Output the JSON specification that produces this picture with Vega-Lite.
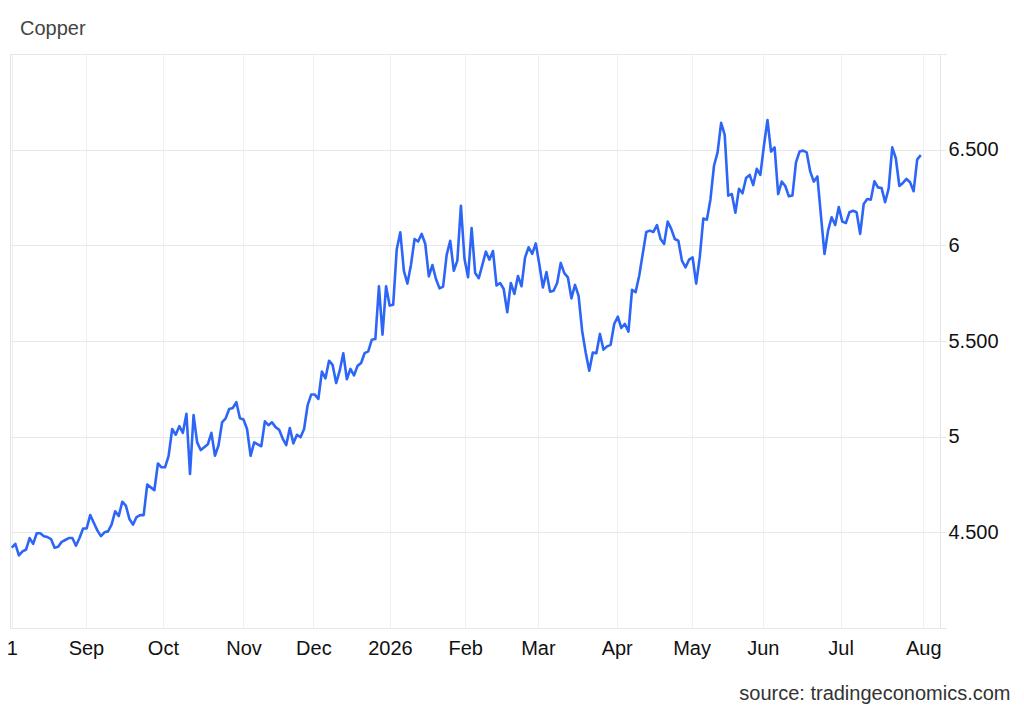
{
  "$schema": "https://vega.github.io/schema/vega-lite/v6.json",
  "description": "Copper price, daily, Aug 2025 to Aug 2026 (x = trading-day number).",
  "width": 930,
  "height": 574,
  "autosize": "none",
  "padding": {"left": 10, "top": 54, "right": 84, "bottom": 82},
  "background": "white",
  "config": {
    "font": "Liberation Sans",
    "view": {"stroke": "#e4e4e4", "strokeWidth": 1}
  },
  "title": {
    "text": "Copper",
    "anchor": "start",
    "frame": "group",
    "dx": 10,
    "dy": 21,
    "offset": 20,
    "baseline": "alphabetic",
    "fontSize": 20,
    "fontWeight": "normal",
    "color": "#444444"
  },
  "data": {
    "values": [
      {"t": 0, "p": 4.42}, {"t": 1, "p": 4.44}, {"t": 2, "p": 4.38}, {"t": 3, "p": 4.40}, {"t": 4, "p": 4.41},
      {"t": 5, "p": 4.47}, {"t": 6, "p": 4.44}, {"t": 7, "p": 4.495}, {"t": 8, "p": 4.495}, {"t": 9, "p": 4.48},
      {"t": 10, "p": 4.475}, {"t": 11, "p": 4.465}, {"t": 12, "p": 4.42}, {"t": 13, "p": 4.425}, {"t": 14, "p": 4.45},
      {"t": 15, "p": 4.46}, {"t": 16, "p": 4.47}, {"t": 17, "p": 4.47}, {"t": 18, "p": 4.43}, {"t": 19, "p": 4.47},
      {"t": 20, "p": 4.52}, {"t": 21, "p": 4.52}, {"t": 22, "p": 4.59}, {"t": 23, "p": 4.55}, {"t": 24, "p": 4.51},
      {"t": 25, "p": 4.48}, {"t": 26, "p": 4.50}, {"t": 27, "p": 4.505}, {"t": 28, "p": 4.54}, {"t": 29, "p": 4.61},
      {"t": 30, "p": 4.585}, {"t": 31, "p": 4.66}, {"t": 32, "p": 4.64}, {"t": 33, "p": 4.57}, {"t": 34, "p": 4.54},
      {"t": 35, "p": 4.58}, {"t": 36, "p": 4.59}, {"t": 37, "p": 4.59}, {"t": 38, "p": 4.75}, {"t": 39, "p": 4.735},
      {"t": 40, "p": 4.72}, {"t": 41, "p": 4.86}, {"t": 42, "p": 4.84}, {"t": 43, "p": 4.84}, {"t": 44, "p": 4.90},
      {"t": 45, "p": 5.04}, {"t": 46, "p": 5.01}, {"t": 47, "p": 5.055}, {"t": 48, "p": 5.02}, {"t": 49, "p": 5.12},
      {"t": 50, "p": 4.805}, {"t": 51, "p": 5.113}, {"t": 52, "p": 4.97}, {"t": 53, "p": 4.93}, {"t": 54, "p": 4.945},
      {"t": 55, "p": 4.96}, {"t": 56, "p": 5.02}, {"t": 57, "p": 4.90}, {"t": 58, "p": 4.955}, {"t": 59, "p": 5.075},
      {"t": 60, "p": 5.096}, {"t": 61, "p": 5.145}, {"t": 62, "p": 5.15}, {"t": 63, "p": 5.18}, {"t": 64, "p": 5.096},
      {"t": 65, "p": 5.09}, {"t": 66, "p": 5.04}, {"t": 67, "p": 4.90}, {"t": 68, "p": 4.97}, {"t": 69, "p": 4.96},
      {"t": 70, "p": 4.95}, {"t": 71, "p": 5.08}, {"t": 72, "p": 5.06}, {"t": 73, "p": 5.075}, {"t": 74, "p": 5.05},
      {"t": 75, "p": 5.036}, {"t": 76, "p": 4.99}, {"t": 77, "p": 4.956}, {"t": 78, "p": 5.045}, {"t": 79, "p": 4.965},
      {"t": 80, "p": 5.01}, {"t": 81, "p": 4.997}, {"t": 82, "p": 5.04}, {"t": 83, "p": 5.165}, {"t": 84, "p": 5.22},
      {"t": 85, "p": 5.22}, {"t": 86, "p": 5.197}, {"t": 87, "p": 5.34}, {"t": 88, "p": 5.305}, {"t": 89, "p": 5.397},
      {"t": 90, "p": 5.375}, {"t": 91, "p": 5.28}, {"t": 92, "p": 5.345}, {"t": 93, "p": 5.436}, {"t": 94, "p": 5.30},
      {"t": 95, "p": 5.354}, {"t": 96, "p": 5.32}, {"t": 97, "p": 5.37}, {"t": 98, "p": 5.385}, {"t": 99, "p": 5.437},
      {"t": 100, "p": 5.446}, {"t": 101, "p": 5.507}, {"t": 102, "p": 5.51}, {"t": 103, "p": 5.786}, {"t": 104, "p": 5.533},
      {"t": 105, "p": 5.786}, {"t": 106, "p": 5.685}, {"t": 107, "p": 5.69}, {"t": 108, "p": 5.98}, {"t": 109, "p": 6.068},
      {"t": 110, "p": 5.867}, {"t": 111, "p": 5.80}, {"t": 112, "p": 5.90}, {"t": 113, "p": 6.033}, {"t": 114, "p": 6.02},
      {"t": 115, "p": 6.06}, {"t": 116, "p": 6.007}, {"t": 117, "p": 5.838}, {"t": 118, "p": 5.897}, {"t": 119, "p": 5.824},
      {"t": 120, "p": 5.775}, {"t": 121, "p": 5.784}, {"t": 122, "p": 5.95}, {"t": 123, "p": 6.024}, {"t": 124, "p": 5.867},
      {"t": 125, "p": 5.92}, {"t": 126, "p": 6.207}, {"t": 127, "p": 5.93}, {"t": 128, "p": 5.833}, {"t": 129, "p": 6.09},
      {"t": 130, "p": 5.855}, {"t": 131, "p": 5.828}, {"t": 132, "p": 5.897}, {"t": 133, "p": 5.967}, {"t": 134, "p": 5.925},
      {"t": 135, "p": 5.97}, {"t": 136, "p": 5.79}, {"t": 137, "p": 5.803}, {"t": 138, "p": 5.772}, {"t": 139, "p": 5.65},
      {"t": 140, "p": 5.803}, {"t": 141, "p": 5.746}, {"t": 142, "p": 5.84}, {"t": 143, "p": 5.786}, {"t": 144, "p": 5.937},
      {"t": 145, "p": 5.99}, {"t": 146, "p": 5.955}, {"t": 147, "p": 6.01}, {"t": 148, "p": 5.90}, {"t": 149, "p": 5.78},
      {"t": 150, "p": 5.86}, {"t": 151, "p": 5.758}, {"t": 152, "p": 5.763}, {"t": 153, "p": 5.803}, {"t": 154, "p": 5.908},
      {"t": 155, "p": 5.855}, {"t": 156, "p": 5.833}, {"t": 157, "p": 5.723}, {"t": 158, "p": 5.793}, {"t": 159, "p": 5.737},
      {"t": 160, "p": 5.554}, {"t": 161, "p": 5.44}, {"t": 162, "p": 5.345}, {"t": 163, "p": 5.44}, {"t": 164, "p": 5.436},
      {"t": 165, "p": 5.537}, {"t": 166, "p": 5.455}, {"t": 167, "p": 5.472}, {"t": 168, "p": 5.48}, {"t": 169, "p": 5.589},
      {"t": 170, "p": 5.627}, {"t": 171, "p": 5.568}, {"t": 172, "p": 5.589}, {"t": 173, "p": 5.549}, {"t": 174, "p": 5.767},
      {"t": 175, "p": 5.755}, {"t": 176, "p": 5.84}, {"t": 177, "p": 5.955}, {"t": 178, "p": 6.07}, {"t": 179, "p": 6.077},
      {"t": 180, "p": 6.07}, {"t": 181, "p": 6.106}, {"t": 182, "p": 6.033}, {"t": 183, "p": 6.007}, {"t": 184, "p": 6.124},
      {"t": 185, "p": 6.086}, {"t": 186, "p": 6.033}, {"t": 187, "p": 6.024}, {"t": 188, "p": 5.92}, {"t": 189, "p": 5.885},
      {"t": 190, "p": 5.925}, {"t": 191, "p": 5.937}, {"t": 192, "p": 5.80}, {"t": 193, "p": 5.937}, {"t": 194, "p": 6.14},
      {"t": 195, "p": 6.134}, {"t": 196, "p": 6.24}, {"t": 197, "p": 6.416}, {"t": 198, "p": 6.486}, {"t": 199, "p": 6.64},
      {"t": 200, "p": 6.577}, {"t": 201, "p": 6.26}, {"t": 202, "p": 6.268}, {"t": 203, "p": 6.17}, {"t": 204, "p": 6.295},
      {"t": 205, "p": 6.272}, {"t": 206, "p": 6.352}, {"t": 207, "p": 6.368}, {"t": 208, "p": 6.315}, {"t": 209, "p": 6.40},
      {"t": 210, "p": 6.368}, {"t": 211, "p": 6.52}, {"t": 212, "p": 6.655}, {"t": 213, "p": 6.49}, {"t": 214, "p": 6.512},
      {"t": 215, "p": 6.268}, {"t": 216, "p": 6.333}, {"t": 217, "p": 6.31}, {"t": 218, "p": 6.256}, {"t": 219, "p": 6.26},
      {"t": 220, "p": 6.434}, {"t": 221, "p": 6.49}, {"t": 222, "p": 6.495}, {"t": 223, "p": 6.486}, {"t": 224, "p": 6.385},
      {"t": 225, "p": 6.333}, {"t": 226, "p": 6.36}, {"t": 227, "p": 6.155}, {"t": 228, "p": 5.955}, {"t": 229, "p": 6.077},
      {"t": 230, "p": 6.147}, {"t": 231, "p": 6.106}, {"t": 232, "p": 6.20}, {"t": 233, "p": 6.124}, {"t": 234, "p": 6.117},
      {"t": 235, "p": 6.173}, {"t": 236, "p": 6.181}, {"t": 237, "p": 6.173}, {"t": 238, "p": 6.06}, {"t": 239, "p": 6.216},
      {"t": 240, "p": 6.242}, {"t": 241, "p": 6.239}, {"t": 242, "p": 6.335}, {"t": 243, "p": 6.303}, {"t": 244, "p": 6.30},
      {"t": 245, "p": 6.225}, {"t": 246, "p": 6.298}, {"t": 247, "p": 6.512}, {"t": 248, "p": 6.455}, {"t": 249, "p": 6.31},
      {"t": 250, "p": 6.326}, {"t": 251, "p": 6.347}, {"t": 252, "p": 6.33}, {"t": 253, "p": 6.283}, {"t": 254, "p": 6.448},
      {"t": 255, "p": 6.472}
    ]
  },
  "mark": {"type": "line", "color": "#2d66f7", "strokeWidth": 2.6, "strokeJoin": "round", "clip": true},
  "encoding": {
    "x": {
      "field": "t",
      "type": "quantitative",
      "scale": {"domain": [-0.5, 260.4], "nice": false, "zero": false},
      "axis": {
        "values": [0, 20.8, 42.4, 65, 84.6, 106.1, 127.2, 147.6, 169.7, 190.7, 210.7, 232.5, 255.7],
        "labelExpr": "['1','Sep','Oct','Nov','Dec','2026','Feb','Mar','Apr','May','Jun','Jul','Aug'][indexof([0, 20.8, 42.4, 65, 84.6, 106.1, 127.2, 147.6, 169.7, 190.7, 210.7, 232.5, 255.7], datum.value)]",
        "labelFontSize": 20,
        "labelColor": "#111111",
        "labelBaseline": "alphabetic",
        "labelPadding": 26,
        "labelFlush": false,
        "labelOverlap": false,
        "ticks": false,
        "tickSize": 0,
        "domain": false,
        "grid": true,
        "gridColor": "#edf0f4",
        "gridWidth": 1,
        "title": "source: tradingeconomics.com",
        "titleFontSize": 20,
        "titleFontWeight": "normal",
        "titleColor": "#333333",
        "titleAlign": "right",
        "titleAnchor": "end",
        "titleBaseline": "alphabetic",
        "titleX": 1000,
        "titleY": 71
      }
    },
    "y": {
      "field": "p",
      "type": "quantitative",
      "scale": {"domain": [4, 7], "nice": false, "zero": false},
      "axis": {
        "orient": "right",
        "values": [4, 4.5, 5, 5.5, 6, 6.5, 7],
        "labelExpr": "datum.value == 4 || datum.value == 7 ? '' : (datum.value % 1 == 0 ? format(datum.value, 'd') : format(datum.value, '.3f'))",
        "labelFontSize": 20,
        "labelColor": "#111111",
        "labelAlign": "left",
        "labelBaseline": "middle",
        "labelPadding": 2,
        "tickSize": 6,
        "tickColor": "#e6e6e6",
        "domain": false,
        "grid": true,
        "gridColor": "#e8e8e8",
        "gridWidth": 1,
        "title": null
      }
    }
  }
}
